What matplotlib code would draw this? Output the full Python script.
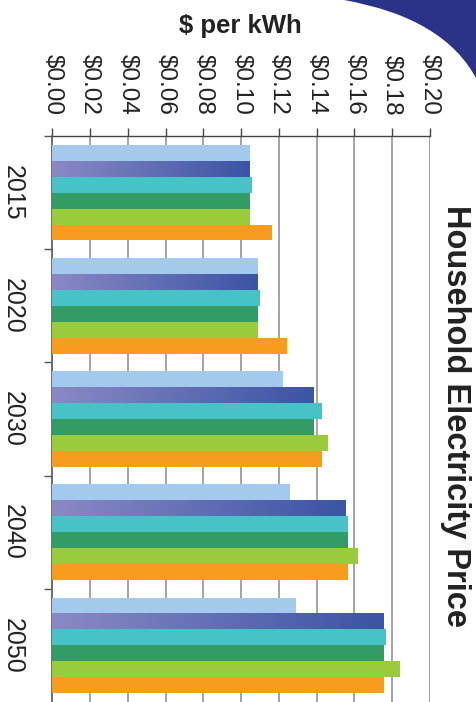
import matplotlib
matplotlib.use("Agg")
import matplotlib.pyplot as plt
import numpy as np
from matplotlib.colors import LinearSegmentedColormap
from matplotlib.path import Path
from matplotlib.patches import PathPatch

years = ["2015", "2020", "2030", "2040", "2050"]
series_a = [0.1047, 0.1090, 0.1222, 0.1259, 0.1290]   # light blue
series_b = [0.1047, 0.1090, 0.1388, 0.1555, 0.1756]   # purple gradient
series_c = [0.1058, 0.1100, 0.1430, 0.1565, 0.1766]   # teal
series_d = [0.1047, 0.1090, 0.1388, 0.1565, 0.1756]   # green
series_e = [0.1047, 0.1090, 0.1462, 0.1618, 0.1840]   # yellow-green
series_f = [0.1163, 0.1244, 0.1430, 0.1565, 0.1756]   # orange
xticks = [0.00, 0.02, 0.04, 0.06, 0.08, 0.10, 0.12, 0.14, 0.16, 0.18, 0.20]

colors = ["#a3c9ed", None, "#47c3c7", "#339b65", "#9acb3d", "#f89c1f"]
all_series = [series_a, series_b, series_c, series_d, series_e, series_f]

W, H = 477, 702
fig = plt.figure(figsize=(W / 100, H / 100), dpi=100)
font = "Liberation Sans"
ax = fig.add_axes([52.5 / W, 0.0, (430 - 52.5) / W, (702 - 136) / H])

n = len(all_series)
bh = 0.141
y = np.arange(len(years))
offsets = (np.arange(n) - (n - 1) / 2) * bh

grad_cmap = LinearSegmentedColormap.from_list("g", ["#8a89c5", "#3b54a5"])
grad = np.linspace(0, 1, 256).reshape(1, -1)

for i, (vals, col) in enumerate(zip(all_series, colors)):
    bars = ax.barh(y + offsets[i], vals, height=bh,
                   color=col if col else "none", zorder=3, linewidth=0)
    if col is None:
        for r in bars:
            x0, y0, w, h = r.get_x(), r.get_y(), r.get_width(), r.get_height()
            ax.imshow(grad, cmap=grad_cmap, extent=[x0, x0 + w, y0 + h, y0],
                      aspect="auto", zorder=3, interpolation="bilinear")

ax.set_xlim(0, 0.20)
ax.set_ylim(len(years) - 0.5, -0.5)

ax.xaxis.tick_top()
ax.set_xticks(xticks)
ax.set_xticklabels([f"${v:.2f}" for v in xticks], rotation=-90,
                   fontsize=17.5, family=font, color="#222222")
ax.tick_params(axis="x", which="major", direction="out", length=6,
               width=1.0, color="#444444", pad=9)
ax.grid(axis="x", color="#8c8c8c", linewidth=1.1, zorder=0)
ax.set_axisbelow(True)

ax.set_yticks(y)
ax.set_yticklabels(years, rotation=-90, fontsize=18, family=font,
                   color="#222222", va="center")
ax.tick_params(axis="y", which="major", length=0, pad=20)
ax.set_yticks(np.arange(len(years)) - 0.5, minor=True)
ax.tick_params(axis="y", which="minor", length=6, width=1.0,
               color="#555555", direction="out")

for s in ["right", "bottom"]:
    ax.spines[s].set_visible(False)
ax.spines["top"].set_color("#444444")
ax.spines["top"].set_linewidth(1.0)
ax.spines["left"].set_color("#666666")
ax.spines["left"].set_linewidth(1.3)

fig.text(240 / W, 1 - 26 / H, "$ per kWh", ha="center", va="center",
         fontsize=18.5, fontweight="bold", family=font, color="#222222")
fig.text(456 / W, 1 - 416 / H, "Household Electricity Price", ha="center",
         va="center", rotation=-90, fontsize=23.5, fontweight="bold",
         family=font, color="#222222")

# decorative swoosh in the top-right corner
pts = [(344, 0), (445, 18), (477, 80), (477, 0), (344, 0)]
codes = [Path.MOVETO, Path.CURVE3, Path.CURVE3, Path.LINETO, Path.CLOSEPOLY]
verts = [(px / W, 1 - py / H) for px, py in pts]
fig.patches.append(PathPatch(Path(verts, codes), transform=fig.transFigure,
                             facecolor="#2b3389", edgecolor="none"))

fig.savefig("out.png", dpi=100)
